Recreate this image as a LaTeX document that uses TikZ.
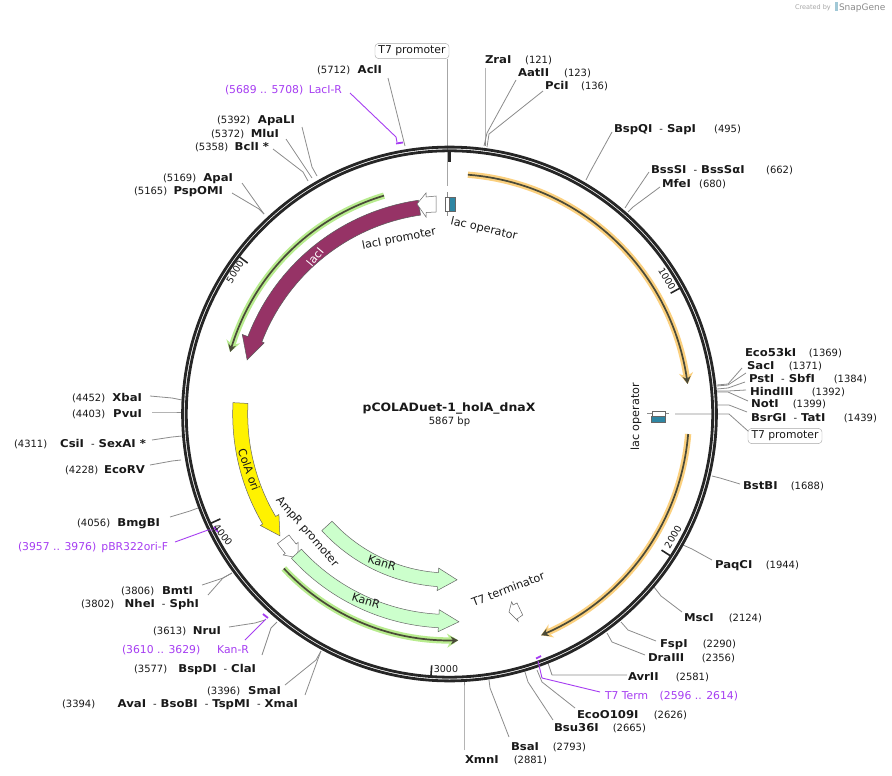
\documentclass[tikz,border=0pt]{standalone}
\usepackage{fontspec}
\setmainfont{DejaVu Sans}[BoldFeatures={FakeStretch=1.08}]
\usetikzlibrary{arrows.meta}
\definecolor{ringdark}{HTML}{262626}
\definecolor{linkgray}{HTML}{8C8C8C}
\definecolor{primer}{HTML}{A63DF2}
\definecolor{lacpurple}{HTML}{963366}
\definecolor{teal}{HTML}{2E86A3}
\definecolor{kangreen}{HTML}{CCFFCC}
\definecolor{halogreen}{HTML}{B8EC8E}
\definecolor{haloorange}{HTML}{FBD07E}
\definecolor{corecol}{HTML}{4A4A38}
\tikzset{
  x=1pt,y=-1pt,
  every node/.style={inner sep=0pt,outer sep=0pt,font=\fontsize{10}{12}\selectfont,text=black!90},
  sitelabel/.style={anchor=base west},
  featlabel/.style={anchor=center,font=\fontsize{11.2}{13}\selectfont},
  link/.style={draw=linkgray,line width=0.8pt,line join=round},
  plink/.style={draw=primer,line width=0.9pt,line join=round},
  pbar/.style={draw=primer,line width=1.8pt},
  tagbox/.style={draw=gray!70,rounded corners=3.5pt,inner xsep=3.5pt,inner ysep=2.5pt,fill=white,font=\fontsize{10.8}{13}\selectfont},
  ticklabel/.style={anchor=center,font=\fontsize{9.5}{11}\selectfont},
  tickmark/.style={draw=ringdark,line width=1.6pt},
  bandgray/.style={draw=gray!80!black,line width=0.5pt,line join=miter},
}
\newcommand\sitelab[5]{\node[sitelabel] (#1) at (#2,#4+4) {\hbox to \dimexpr #3pt-#2pt\relax{#5}};}
\newcommand\plab[5]{\node[sitelabel,text=primer,font=\fontsize{10.8}{12}\selectfont] (#1) at (#2,#4+4) {\hbox to \dimexpr #3pt-#2pt\relax{#5}};}
\newcommand\linkthree[4]{\coordinate (#1-a) at (#2);\coordinate (#1-b) at (#3);\coordinate (#1-c) at (#4);\draw[link] (#1-a) -- (#1-b) -- (#1-c);}
\newcommand\B[1]{{\fontsize{10.8}{12}\selectfont\bfseries #1}}
\newcommand\SP{\hspace{7pt}-\hspace{4pt}}
\newcommand\band[9]{\draw[#9] plot[domain=#1:#2,samples=50] ({\x-90}:#5) -- ({#2-90}:#7) -- ({#3-90}:#8) -- ({#2-90}:#6) -- plot[domain=#2:#1,samples=50] ({\x-90}:#4) -- cycle;}
\newcommand\thinarrow[4]{
  \draw[#4,line width=6.3pt,-{Stealth[length=11pt,width=14pt]}] plot[domain=#1:#2,samples=50] ({\x-90}:#3);
  \draw[corecol,line width=1.7pt,-{Stealth[length=7.5pt,width=8pt]}] plot[domain=#1:#2,samples=50] ({\x-90}:#3);
}
\begin{document}
\begin{tikzpicture}
\useasboundingbox (0,0) rectangle (892,776);
\fill[white] (0,0) rectangle (892,776);

% logo
\node[anchor=base west,text=black!35,font=\fontsize{6.5}{8}\selectfont] (madeby) at (795,10) {Created by};
\fill[teal!45] (834.5,2.5) rectangle (838,11);
\node[anchor=base west,text=black!45,font=\fontsize{9}{10}\selectfont] (logo) at (839,10.5) {SnapGene};

% ---- connectors (under the ring) ----
\linkthree{AclI}{388,78}{403,138}{405,146}
\linkthree{ZraI}{485,68}{485,135}{485,146}
\linkthree{AatII}{516,80}{487,133}{484,146}
\linkthree{PciI}{543,91}{489,134}{487,147}
\linkthree{BspQI}{612,132}{590,172}{586,180}
\linkthree{BssSI}{649,172}{630,200}{625,208}
\linkthree{MfeI}{660,187}{633,207}{628,212}
\linkthree{Eco}{742,368}{728,384}{717,385}
\linkthree{SacI}{746,373}{728,385}{717,386}
\linkthree{PstI}{745,382}{728,388}{717,389}
\linkthree{HindIII}{746,390}{728,391}{717,391}
\linkthree{NotI}{748,401}{728,392}{717,392}
\linkthree{BsrGI}{747,412}{729,405}{717,405}
\linkthree{T7right}{748,431}{729,414}{675,414}
\linkthree{BstBI}{740,484}{720,478}{712,476}
\linkthree{PaqCI}{712,560}{692,549}{683,545}
\linkthree{MscI}{682,612}{661,596}{654,587}
\linkthree{FspI}{656,641}{628,630}{621,622}
\linkthree{DraIII}{645,655}{612,642}{607,633}
\linkthree{AvrII}{627,675}{552,675}{548,663}
\linkthree{EcoO}{575,708}{542,682}{537,670}
\linkthree{Bsu}{553,720}{528,682}{525,672}
\linkthree{BsaI}{509,737}{490,688}{489,680}
\linkthree{XmnI}{464,750}{464,690}{464,680}
\linkthree{SmaI}{285,685}{316,660}{321,651}
\linkthree{XmaI}{305,695}{318,659}{321,651}
\linkthree{BspDI}{262,655}{271,628}{277,622}
\linkthree{NruI}{229,627}{255,623}{265,620}
\linkthree{BmtI}{202,585}{223,578}{232,573}
\linkthree{NheI}{208,595}{223,578}{232,573}
\linkthree{BmgBI}{170,517}{190,511}{198,508}
\linkthree{EcoRV}{150,465}{172,461}{181,460}
\linkthree{CsiI}{152,440}{172,437}{182,436}
\linkthree{PvuI}{152,412}{172,412}{182,412}
\linkthree{XbaI}{150,396}{172,398}{182,400}
\linkthree{ApaI}{242,183}{259,207}{264,214}
\linkthree{PspOMI}{232,193}{259,209}{264,214}
\linkthree{ApaLI}{302,127}{312,167}{317,176}
\linkthree{MluI}{286,139}{308,172}{312,178}
\linkthree{BclI}{273,149}{303,172}{308,181}
\coordinate (T7top-a) at (447,59);\coordinate (T7top-b) at (447,186);
\draw[link,draw=gray!70,line width=1pt] (T7top-a) -- (T7top-b);

% ---- ring ----
\begin{scope}[shift={(449.5,414)}]
\draw[ringdark,line width=2.8pt] (0,0) circle[radius=266.9];
\draw[ringdark,line width=2.8pt] (0,0) circle[radius=263.2];
\draw[ringdark,line width=3pt] (0,-264) -- (0,-252);
\draw[tickmark] ({61.35-90}:264) -- ({61.35-90}:252);
\draw[tickmark] ({122.7-90}:264) -- ({122.7-90}:252);
\draw[tickmark] ({184.05-90}:264) -- ({184.05-90}:252);
\draw[tickmark] ({245.4-90}:264) -- ({245.4-90}:252);
\draw[tickmark] ({306.8-90}:264) -- ({306.8-90}:252);
\thinarrow{4.4}{82.8}{240}{haloorange}
\thinarrow{94.8}{157.5}{239.5}{haloorange}
\thinarrow{343.3}{285.8}{228}{halogreen}
\thinarrow{227}{177.8}{226.5}{halogreen}
\band{351.7}{291}{285}{201}{216}{198.5}{222}{209.5}{fill=lacpurple,draw=gray!70!black,line width=0.5pt}
\band{273}{239.5}{234.3}{201.8}{216.8}{198}{219.6}{208.8}{fill=yellow,bandgray}
\band{233}{229.7}{226.5}{201}{215.4}{198.5}{218}{209}{fill=white,bandgray}
\band{227.6}{184}{177.4}{159}{173}{154.5}{177}{166}{fill=kangreen,bandgray}
\band{227.6}{183}{177.4}{200.5}{214}{196}{218}{208}{fill=kangreen,bandgray}
\end{scope}

% lacI promoter (white arrow)
\draw[bandgray,fill=white] (417,204) -- (426,193) -- (426,197) -- (436,196) -- (436,212) -- (426,212.5) -- (426,217) -- cycle;
% T7 terminator (white arrow)
\draw[bandgray,fill=white] (511.7,601.7) -- (513,605) -- (517,603) -- (522.7,615) -- (517,619) -- (518,621) -- (509,612) -- cycle;
% lac operators
\draw[link] (447,192) -- (447,216);
\draw[bandgray,fill=white] (445,197) rectangle (449.5,211);
\draw[bandgray,fill=teal] (449.5,197) rectangle (455,211);
\draw[link] (647,413.5) -- (669,413.5);
\draw[bandgray,fill=white] (652,411) rectangle (665,416);
\draw[bandgray,fill=teal] (651,416) rectangle (665,422);

% primers
\coordinate (LacIR-a) at (350,93);\coordinate (LacIR-b) at (396,137);\coordinate (LacIR-c) at (397,142);
\draw[plink] (LacIR-a) -- (LacIR-b) -- (LacIR-c);
\draw[pbar] (396,143.5) -- (403,142.5);
\coordinate (T7T-a) at (600,692);\coordinate (T7T-b) at (542,678);\coordinate (T7T-c) at (538,661);
\draw[plink] (T7T-a) -- (T7T-b) -- (T7T-c);
\draw[pbar] (536,658.5) -- (541,656);
\coordinate (KanRp-a) at (245,640);\coordinate (KanRp-b) at (266,619);
\draw[plink] (KanRp-a) -- (KanRp-b);
\draw[pbar] (263,614) -- (268,618);
\coordinate (BRp-a) at (175,542);\coordinate (BRp-b) at (208,530);\coordinate (BRp-c) at (213,530);
\draw[plink] (BRp-a) -- (BRp-b) -- (BRp-c);
\draw[pbar] (214,527) -- (218,532);

% ---- title ----
\node[anchor=center,font=\bfseries\fontsize{11.5}{14}\selectfont] (title) at (449,408) {pCOLADuet-1\_holA\_dnaX};
\node[anchor=center] (bp) at (449.5,421.5) {5867 bp};

% ---- feature labels ----
\node[tagbox] (T7a) at (412,51) {T7 promoter};
\node[tagbox] (T7b) at (785,436) {T7 promoter};
\node[featlabel,rotate=11] (lacIpro) at (399,239) {lacI promoter};
\node[featlabel,rotate=-13] (lacop1) at (484,229) {lac operator};
\node[featlabel,rotate=90] (lacop2) at (636,417) {lac operator};
\node[featlabel,rotate=50,text=white] (lacI) at (315,257) {lacI};
\node[featlabel,rotate=-70] (ColA) at (249,470) {ColA ori};
\node[featlabel,rotate=-49] (AmpR) at (307,532) {AmpR promoter};
\node[featlabel,rotate=-17] (Kan1) at (382,563) {KanR};
\node[featlabel,rotate=-17] (Kan2) at (366,601) {KanR};
\node[featlabel,rotate=21] (T7t) at (508,589) {T7 terminator};
\node[ticklabel,rotate=-60] (t1000) at (667,279) {1000};
\node[ticklabel,rotate=60] (t2000) at (673,537) {2000};
\node[ticklabel] (t3000) at (446,669) {3000};
\node[ticklabel,rotate=-52] (t4000) at (223,535) {4000};
\node[ticklabel,rotate=58] (t5000) at (235,272) {5000};

% ---- site labels ----
\sitelab{lAclI}{317}{382}{70}{(5712)\hfill\B{AclI}}
\plab{lLacIR}{225}{342}{89}{(5689 .. 5708)\hfill LacI-R}
\sitelab{lZraI}{485}{552}{60}{\B{ZraI}\hfill(121)}
\sitelab{lAatII}{518}{591}{73}{\B{AatII}\hfill(123)}
\sitelab{lPciI}{545}{608}{86}{\B{PciI}\hfill(136)}
\sitelab{lBspQI}{614}{741}{128}{\B{BspQI}\SP\B{SapI}\hfill(495)}
\sitelab{lBssSI}{651}{793}{169}{\B{BssSI}\SP\B{BssSαI}\hfill(662)}
\sitelab{lMfeI}{662}{726}{183}{\B{MfeI}\hfill(680)}
\sitelab{lEco}{745}{842}{352}{\B{Eco53kI}\hfill(1369)}
\sitelab{lSacI}{747}{822}{365}{\B{SacI}\hfill(1371)}
\sitelab{lPstI}{749}{867}{378}{\B{PstI}\SP\B{SbfI}\hfill(1384)}
\sitelab{lHindIII}{750}{845}{391}{\B{HindIII}\hfill(1392)}
\sitelab{lNotI}{751}{826}{403}{\B{NotI}\hfill(1399)}
\sitelab{lBsrGI}{751}{877}{417}{\B{BsrGI}\SP\B{TatI}\hfill(1439)}
\sitelab{lBstBI}{743}{824}{485}{\B{BstBI}\hfill(1688)}
\sitelab{lPaqCI}{715}{799}{564}{\B{PaqCI}\hfill(1944)}
\sitelab{lMscI}{684}{762}{617}{\B{MscI}\hfill(2124)}
\sitelab{lFspI}{660}{736}{643}{\B{FspI}\hfill(2290)}
\sitelab{lDraIII}{648}{735}{657}{\B{DraIII}\hfill(2356)}
\sitelab{lAvrII}{628}{709}{676}{\B{AvrII}\hfill(2581)}
\plab{lT7T}{605}{738}{695}{T7 Term\hfill(2596 .. 2614)}
\sitelab{lEcoO}{577}{687}{714}{\B{EcoO109I}\hfill(2626)}
\sitelab{lBsu}{554}{646}{727}{\B{Bsu36I}\hfill(2665)}
\sitelab{lBsaI}{511}{586}{746}{\B{BsaI}\hfill(2793)}
\sitelab{lXmnI}{465}{547}{759}{\B{XmnI}\hfill(2881)}
\sitelab{lSmaI}{207}{281}{690}{(3396)\hfill\B{SmaI}}
\sitelab{lXmaI}{62}{298}{703}{(3394)\hfill\B{AvaI}\SP\B{BsoBI}\SP\B{TspMI}\SP\B{XmaI}}
\sitelab{lBspDI}{134}{256}{668}{(3577)\hfill\B{BspDI}\SP\B{ClaI}}
\plab{lKanR}{122}{249}{649}{(3610 .. 3629)\hfill Kan-R}
\sitelab{lNruI}{153}{221}{630}{(3613)\hfill\B{NruI}}
\sitelab{lBmtI}{121}{193}{590}{(3806)\hfill\B{BmtI}}
\sitelab{lNheI}{81}{199}{603}{(3802)\hfill\B{NheI}\SP\B{SphI}}
\plab{lBR}{18}{168}{546}{(3957 .. 3976)\hfill pBR322ori-F}
\sitelab{lBmgBI}{77}{160}{522}{(4056)\hfill\B{BmgBI}}
\sitelab{lEcoRV}{65}{145}{469}{(4228)\hfill\B{EcoRV}}
\sitelab{lCsiI}{14}{146}{443}{(4311)\hfill\B{CsiI}\SP\B{SexAI *}}
\sitelab{lPvuI}{72}{142}{413}{(4403)\hfill\B{PvuI}}
\sitelab{lXbaI}{72}{142}{397}{(4452)\hfill\B{XbaI}}
\sitelab{lApaI}{163}{233}{177}{(5169)\hfill\B{ApaI}}
\sitelab{lPspOMI}{134}{223}{190}{(5165)\hfill\B{PspOMI}}
\sitelab{lApaLI}{217}{295}{120}{(5392)\hfill\B{ApaLI}}
\sitelab{lMluI}{211}{279}{133}{(5372)\hfill\B{MluI}}
\sitelab{lBclI}{195}{269}{146}{(5358)\hfill\B{BclI *}}
\end{tikzpicture}
\end{document}
